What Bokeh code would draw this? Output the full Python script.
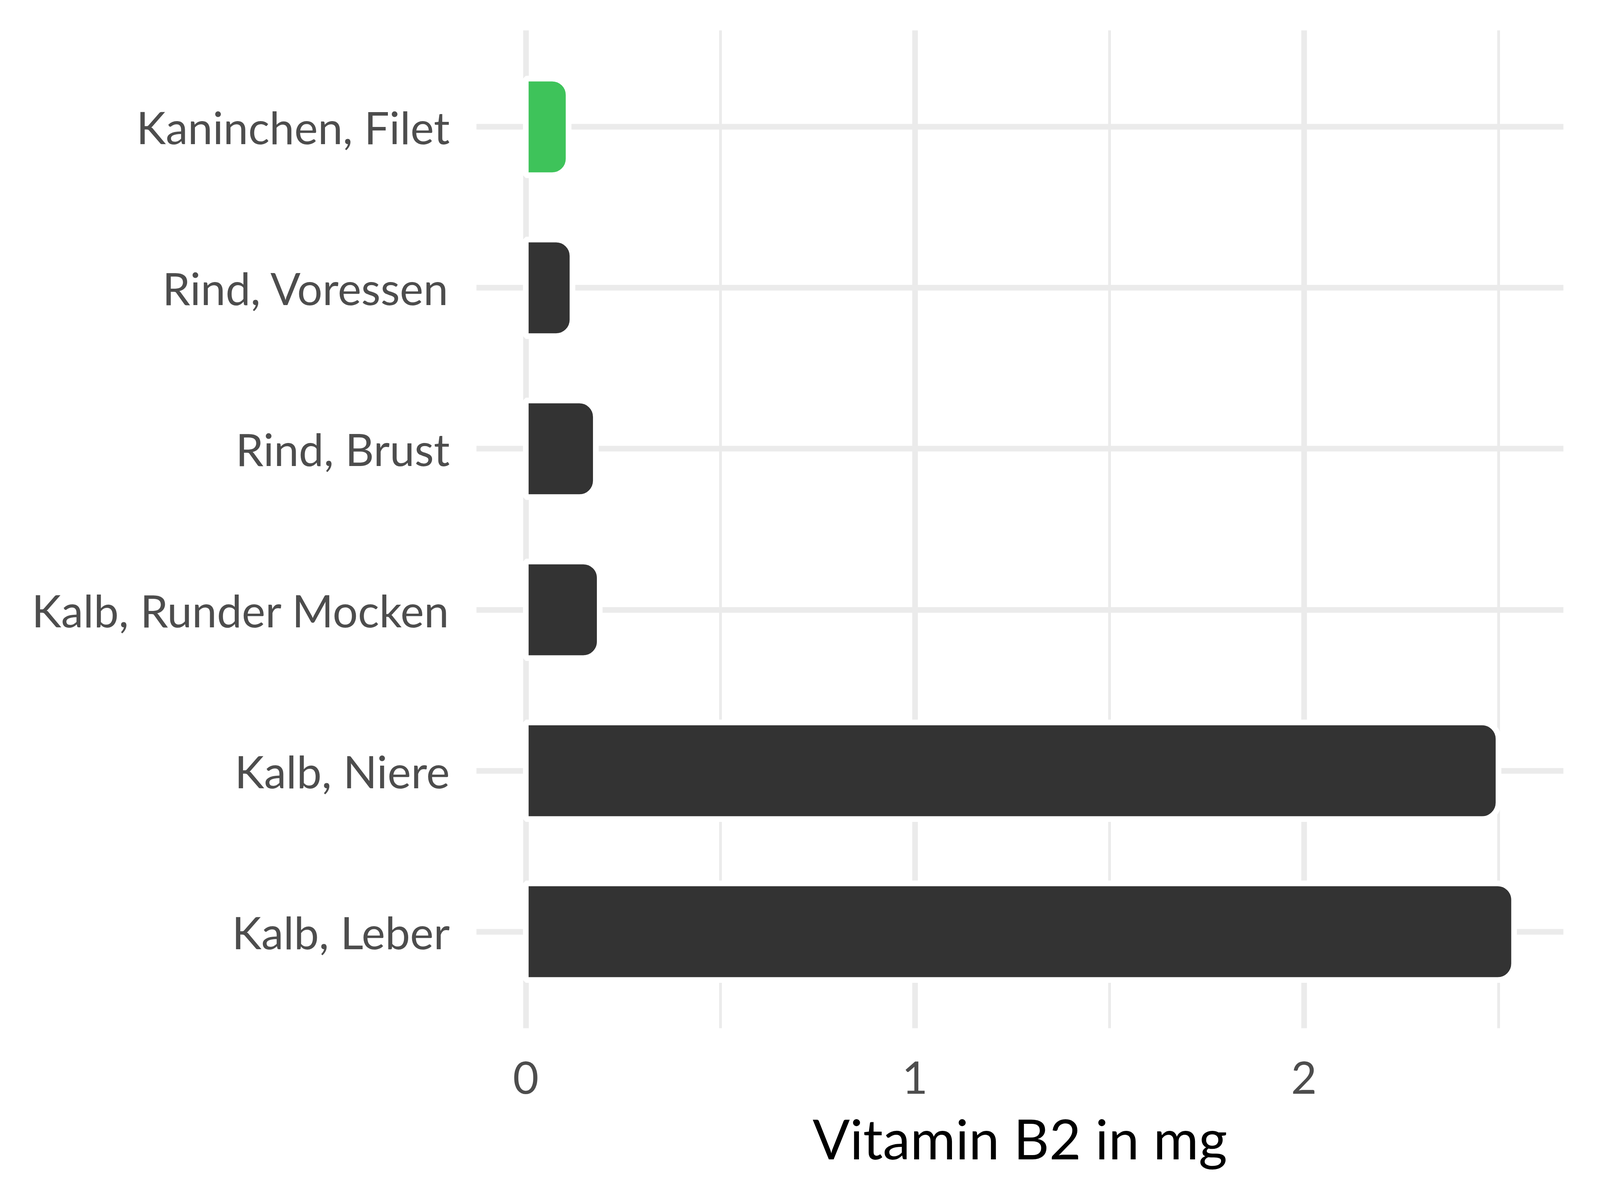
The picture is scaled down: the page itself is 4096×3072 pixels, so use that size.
from bokeh.plotting import figure
from bokeh.models import Range1d, FixedTicker
from bokeh.embed import file_html
from bokeh.resources import INLINE

# ---- data (bottom to top) ----
categories = ["Kalb, Leber", "Kalb, Niere", "Kalb, Runder Mocken",
              "Rind, Brust", "Rind, Voressen", "Kaninchen, Filet"]
values = [2.54, 2.50, 0.19, 0.18, 0.12, 0.11]
bar_colors = ["#333333", "#333333", "#333333", "#333333", "#333333", "#3EC35A"]
x_ticks = [0, 1, 2]
x_minor_ticks = [0.5, 1.5, 2.5]
x_label = "Vitamin B2 in mg"

positions = list(range(1, len(categories) + 1))

FONT = "Lato"
GRID = "#EBEBEB"
TXT = "#4D4D4D"

p = figure(width=4080, height=3056, output_backend="svg", toolbar_location=None,
           x_range=Range1d(-0.127, 2.667), y_range=Range1d(0.4, 6.6))
p.min_border_left = 1219
p.min_border_right = 78
p.min_border_top = 77
p.min_border_bottom = 424
p.outline_line_color = None
p.background_fill_color = "white"
p.border_fill_color = "white"

p.hbar(y=positions, left=0, right=values, height=0.6,
       fill_color=bar_colors, line_color="white", line_width=14.5,
       border_radius=(0, 42, 42, 0))

# x axis
p.xaxis.ticker = FixedTicker(ticks=x_ticks, minor_ticks=x_minor_ticks)
p.xaxis.axis_label = x_label
p.xaxis.axis_label_text_font = FONT
p.xaxis.axis_label_text_font_style = "normal"
p.xaxis.axis_label_text_font_size = "141px"
p.xaxis.axis_label_text_color = "black"
p.xaxis.axis_label_standoff = 26
p.xaxis.major_label_standoff = 80

# y axis
p.yaxis.ticker = FixedTicker(ticks=positions)
p.yaxis.major_label_overrides = {pos: cat for pos, cat in zip(positions, categories)}
p.yaxis.major_label_standoff = 68

for ax in (p.xaxis, p.yaxis):
    ax.axis_line_color = None
    ax.major_tick_line_color = None
    ax.minor_tick_line_color = None
    ax.major_tick_out = 0
    ax.major_tick_in = 0
    ax.major_label_text_font = FONT
    ax.major_label_text_font_size = "114px"
    ax.major_label_text_color = TXT

p.xgrid.grid_line_color = GRID
p.xgrid.grid_line_width = 14.5
p.xgrid.minor_grid_line_color = GRID
p.xgrid.minor_grid_line_width = 7
p.ygrid.grid_line_color = GRID
p.ygrid.grid_line_width = 14.5

open("out.html", "w").write(file_html(p, INLINE))
